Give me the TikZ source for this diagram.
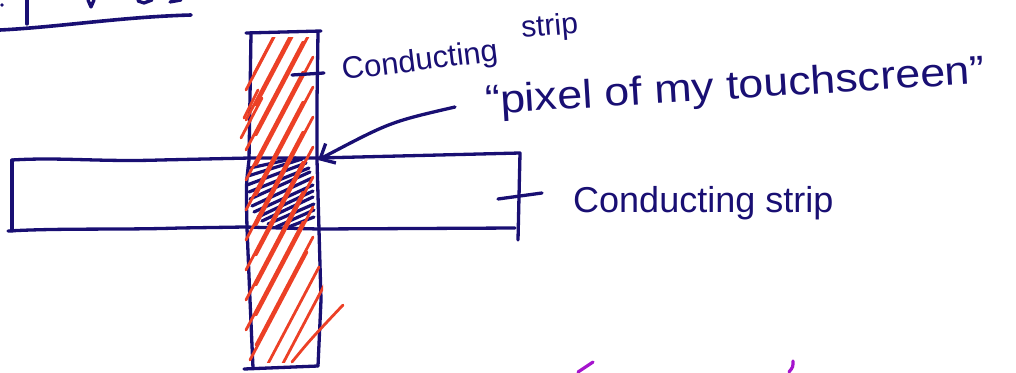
\documentclass[tikz,border=0pt]{standalone}
\usepackage{fontspec}
\setmainfont{Liberation Sans}
\usetikzlibrary{arrows.meta}
\definecolor{ink}{RGB}{25,15,115}
\definecolor{hatchred}{RGB}{236,64,38}
\definecolor{inkpurple}{RGB}{165,20,205}

\begin{document}
\begin{tikzpicture}[x=1pt,y=-1pt,
  pen/.style={draw=ink, line width=3.3pt, line cap=round, line join=round},
  redpen/.style={draw=hatchred, line width=2.8pt, line cap=round},
  bluepen/.style={draw=ink, line width=3.2pt, line cap=round},
  purplepen/.style={draw=inkpurple, line width=3.2pt, line cap=round},
  hand/.style={text=ink, inner sep=0pt, anchor=base west},
]
\useasboundingbox (0,0) rectangle (1016,372);

% leftovers of the heading above, with its underline
\draw[pen, line width=3.6pt] (0,30) .. controls (60,27) and (120,17) .. (191,15);
\draw[pen] (27,0) -- (27,24);
\draw[pen] (88,0) -- (91,7) -- (94,0);
\draw[pen] (138,1) -- (144,3) -- (152,0);
\draw[pen] (170,2) -- (181,0);
\fill[ink] (2,5) circle (1.8);

% vertical conducting strip
\draw[pen] (246,33) -- (321,31);
\draw[pen] (251,33) -- (249,160) .. controls (246,185) .. (247,228) -- (250,300) -- (253,368);
\draw[pen] (318,32) -- (317,100) -- (317,160) -- (319,230) -- (321,300) -- (318,366);
\draw[pen] (244,369) -- (318,366);

% horizontal conducting strip
\draw[pen] (12,160) .. controls (60,157) and (100,162) .. (160,160) -- (250,158) -- (318,158) -- (520,153) -- (518,240);
\draw[pen] (12,160) -- (12,231);
\draw[pen] (8,231) .. controls (60,228) and (120,230) .. (180,228) -- (245,227) -- (318,229) -- (515,228);

% blue hatching over the crossing
\foreach \ax/\ay/\bx/\by in {250/168/296/158, 248/176/302/159, 247/185/306/163, 249/192/309/168,
  250/199/310/172, 252/206/312/178, 254/212/313/185, 258/217/313/191, 262/221/313/197,
  268/224/314/204, 276/227/314/210, 286/228/314/217}
  \draw[bluepen] (\ax,\ay) -- (\bx,\by);

% red hatching along the vertical strip
\begin{scope}
  \clip (238,37) rectangle (323,362);
  \foreach \sx/\sy in {254/74, 246/90, 256/105, 246/120, 256/135, 246/150, 256/165, 246/180,
    256/195, 246/210, 256/225, 246/240, 256/255, 246/270, 256/285, 246/300, 256/315,
    246/330, 256/345, 250/360, 262/375, 270/388}
    \draw[redpen] (\sx,\sy) -- ++(57,-108);
\end{scope}
\draw[redpen] (241,138) -- (262,98);
\draw[redpen] (244,118) -- (258,90);
\draw[redpen] (292,362) .. controls (310,340) .. (343,305);

% labels
\node[hand, rotate=7, font=\fontsize{31}{37}\selectfont] (topCond) at (343,80) {Conducting};
\node[hand, rotate=5, font=\fontsize{30}{36}\selectfont] (topStrip) at (522,38) {strip};
\node[hand, font=\fontsize{36}{43}\selectfont] (rightLabel) at (573,212) {Conducting strip};
\node[hand, rotate=3.5, font=\fontsize{40}{48}\selectfont] (pixelLabel) at (486,114)
  {\scalebox{1.12}[1]{“pixel of my touchscreen”}};

% pointers from the labels
\coordinate (topTickA) at (292,75);
\coordinate (topTickB) at (324,73);
\draw[pen] (topTickA) -- (topTickB);
\coordinate (rightTickA) at (498,199);
\coordinate (rightTickB) at (542,193);
\draw[pen] (rightTickA) -- (rightTickB);
\coordinate (arrowTail) at (455,107);
\coordinate (pixelSpot) at (318,160);
\draw[pen, -{Straight Barb[length=12pt,width=22pt]}] (arrowTail) .. controls (390,122) .. (pixelSpot);

% purple strokes at the lower edge
\draw[purplepen] (578,372) -- (593,362);
\draw[purplepen] (793,361) .. controls (793,367) .. (789,372);
\end{tikzpicture}
\end{document}
